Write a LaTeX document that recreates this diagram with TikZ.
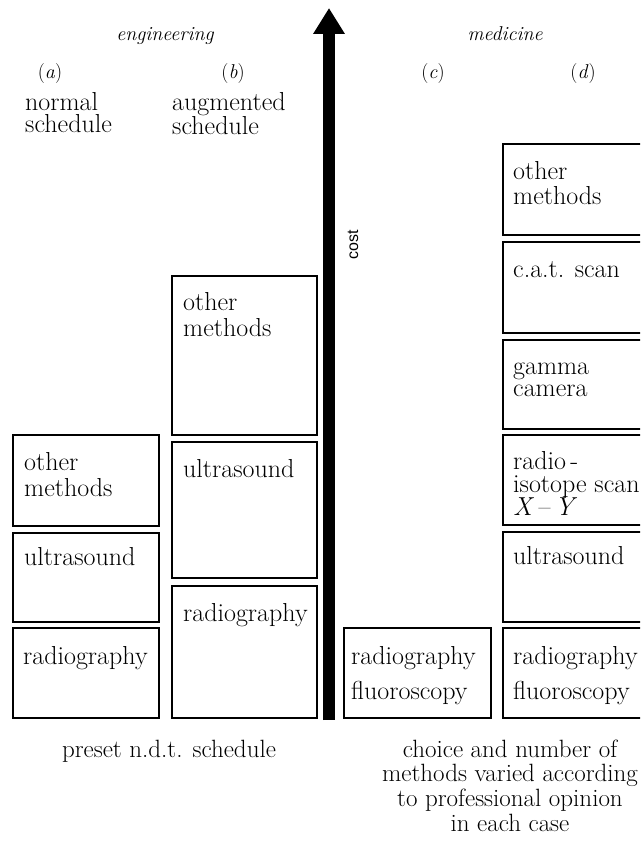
\documentclass[tikz,border=0pt]{standalone}
\usepackage{fontspec}
\usetikzlibrary{arrows.meta}
\newfontfamily\costfont{Liberation Sans}
\newcommand{\firstln}{\rule{0pt}{20pt}}
\begin{document}
\begin{tikzpicture}[x=1pt,y=-1pt,
  box/.style={draw, line width=1.8pt, inner sep=0pt, anchor=north west},
  bt/.style={anchor=base west, inner sep=0pt, font=\fontsize{26}{28}\selectfont\addfontfeature{FakeBold=0.4}},
  mbt/.style={anchor=north west, align=left, inner sep=0pt, font=\fontsize{26}{#1}\selectfont\addfontfeature{FakeBold=0.4}},
  hd/.style={anchor=base, inner sep=0pt, font=\fontsize{20}{24}\selectfont\itshape},
  lab/.style={anchor=base, inner sep=0pt, font=\fontsize{20}{24}\selectfont},
  foot/.style={inner sep=0pt, font=\fontsize{25}{24.7}\selectfont}]
\useasboundingbox (0,0) rectangle (640,842);
\clip (0,0) rectangle (640,842);
% headers
\node[hd] (eng) at (165,41) {engineering};
\node[hd] (med) at (505,41) {medicine};
\node[lab] (la) at (50,79) {(\textit{a})};
\node[lab] (lb) at (233,79) {(\textit{b})};
\node[lab] (lc) at (433,79) {(\textit{c})};
\node[lab] (ld) at (583,79) {(\textit{d})};
\node[mbt=22pt] (ns) at (25,90) {\firstln normal\\schedule};
\node[mbt=22pt] (as) at (172,90) {\firstln augmented\\schedule};
% cost arrow
\coordinate (arrbot) at (329,720);
\coordinate (arrtop) at (329,8);
\draw[line width=12pt, -{Triangle[width=30pt,length=26pt]}] (arrbot) -- (arrtop);
\node[inner sep=0pt, rotate=90, font=\costfont\fontsize{16}{18}\selectfont] (cost) at (353,245) {cost};
% column a
\node[box, minimum width=146pt, minimum height=91pt] (a3) at (12,434) {};
\node[box, minimum width=146pt, minimum height=89pt] (a2) at (12,532) {};
\node[box, minimum width=146pt, minimum height=90pt] (a1) at (12,627) {};
\node[mbt=26pt] (a3t) at (24,450) {\firstln other\\methods};
\node[bt] (a2t) at (24,565) {ultrasound};
\node[bt] (a1t) at (23,664) {radiography};
% column b
\node[box, minimum width=145pt, minimum height=159pt] (b3) at (171,275) {};
\node[box, minimum width=145pt, minimum height=136pt] (b2) at (171,441) {};
\node[box, minimum width=145pt, minimum height=132pt] (b1) at (171,585) {};
\node[mbt=26pt] (b3t) at (183,290) {\firstln other\\methods};
\node[bt] (b2t) at (183,477) {ultrasound};
\node[bt] (b1t) at (183,621) {radiography};
% column c
\node[box, minimum width=147pt, minimum height=90pt] (c1) at (343,627) {};
\node[mbt=35pt] (c1t) at (351,644) {\firstln radiography\\fluoroscopy};
% column d
\node[box, minimum width=160pt, minimum height=91pt] (d6) at (502,143) {};
\node[box, minimum width=160pt, minimum height=91pt] (d5) at (502,241) {};
\node[box, minimum width=160pt, minimum height=89pt] (d4) at (502,339) {};
\node[box, minimum width=160pt, minimum height=90pt] (d3) at (502,434) {};
\node[box, minimum width=160pt, minimum height=90pt] (d2) at (502,531) {};
\node[box, minimum width=160pt, minimum height=90pt] (d1) at (502,627) {};
\node[mbt=25pt] (d6t) at (513,159) {\firstln other\\methods};
\node[bt] (d5t) at (513,277) {c.a.t. scan};
\node[mbt=22pt] (d4t) at (513,354) {\firstln gamma\\camera};
\node[mbt=23pt] (d3t) at (513,449) {\firstln radio\,-\\isotope scan\\\textit{X}\,–\,\textit{Y}};
\node[bt] (d2t) at (513,564) {ultrasound};
\node[mbt=35pt] (d1t) at (513,644) {\firstln radiography\\fluoroscopy};
% footers
\node[foot, anchor=base] (f1) at (169,757) {preset n.d.t. schedule};
\node[foot, anchor=north, align=center] (f2) at (510,739.5)
  {choice and number of\\methods varied according\\to professional opinion\\in each case};
\end{tikzpicture}
\end{document}
